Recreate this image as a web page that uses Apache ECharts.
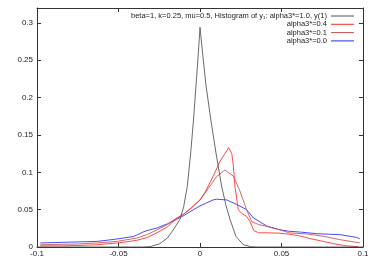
<!DOCTYPE html>
<html>
<head>
<meta charset="utf-8">
<script src="https://cdn.jsdelivr.net/npm/echarts@6/dist/echarts.min.js"></script>
<style>html,body{margin:0;padding:0;background:#fff}#c{width:374px;height:262px}</style>
</head>
<body>
<div id="c"></div>
<script>
// Tick labels
var xTicks = [-0.1, -0.05, 0, 0.05, 0.1];
var yTicks = [0, 0.05, 0.1, 0.15, 0.2, 0.25, 0.3];

// Series names
var names = [
  'beta=1, k=0.25, mu=0.5, Histogram of y\u2081: alpha3*=1.0, y(1)',
  'alpha3*=0.4',
  'alpha3*=0.1',
  'alpha3*=0.0'
];

// alpha3*=1.0, y(1)
var xBlack = [-0.1,-0.035,-0.0307,-0.025,-0.02,-0.0164,-0.0123,-0.01,-0.0078,-0.0057,-0.004,-0.00245,-0.001,0,0.0018,0.0037,0.0066,0.0098,0.0133,0.016,0.0184,0.0221,0.0266,0.031,0.035,0.1];
var yBlack = [0,0,0.0005,0.004,0.012,0.023,0.037,0.054,0.081,0.126,0.17,0.216,0.26,0.294,0.255,0.216,0.171,0.126,0.081,0.055,0.037,0.014,0.003,0.0005,0,0];

// alpha3*=0.4
var xA04 = [-0.098,-0.085,-0.075,-0.063,-0.051,-0.045,-0.0387,-0.032,-0.0264,-0.02,-0.015,-0.01,-0.005,0,0.003,0.0061,0.009,0.0123,0.015,0.0176,0.0195,0.0204,0.0215,0.0235,0.0256,0.0286,0.0307,0.033,0.036,0.041,0.049,0.055,0.061,0.068,0.0757,0.083,0.09,0.097];
var yA04 = [0.0015,0.0015,0.002,0.003,0.0054,0.007,0.009,0.013,0.019,0.027,0.037,0.044,0.053,0.063,0.073,0.086,0.099,0.115,0.124,0.133,0.125,0.110,0.080,0.050,0.045,0.041,0.034,0.022,0.019,0.019,0.0185,0.017,0.015,0.011,0.0075,0.004,0.0015,0.0005];

// alpha3*=0.1
var xA01 = [-0.098,-0.075,-0.063,-0.051,-0.0387,-0.032,-0.0264,-0.02,-0.015,-0.01,-0.005,0,0.005,0.010,0.0153,0.0204,0.0245,0.0286,0.0317,0.036,0.041,0.049,0.055,0.0654,0.0757,0.086,0.098];
var yA01 = [0.003,0.004,0.0054,0.0075,0.012,0.017,0.023,0.030,0.038,0.044,0.053,0.063,0.078,0.094,0.103,0.095,0.075,0.050,0.034,0.030,0.0277,0.023,0.0188,0.0175,0.0143,0.0098,0.0055];

// alpha3*=0.0
var xA00 = [-0.098,-0.08,-0.063,-0.051,-0.041,-0.0387,-0.035,-0.0325,-0.0264,-0.02,-0.0143,-0.01,-0.004,0,0.004,0.008,0.0102,0.0164,0.0225,0.0286,0.0327,0.035,0.041,0.049,0.055,0.0616,0.0716,0.0757,0.086,0.096,0.098];
var yA00 = [0.0054,0.0065,0.0075,0.0107,0.014,0.016,0.020,0.022,0.0255,0.031,0.037,0.042,0.050,0.055,0.059,0.063,0.064,0.063,0.057,0.050,0.039,0.036,0.028,0.023,0.021,0.020,0.0178,0.0174,0.0165,0.0129,0.011];

function pairs(xs, ys) { return xs.map(function (x, i) { return [x, ys[i]]; }); }

var colors = ['#505050', '#ff2a2a', '#c45050', '#2a2aff'];
var seriesData = [pairs(xBlack, yBlack), pairs(xA04, yA04), pairs(xA01, yA01), pairs(xA00, yA00)];

function fmt(v) { return String(parseFloat(v.toFixed(4))); }
function isTick(list, v) { return list.some(function (t) { return Math.abs(t - v) < 1e-9; }); }

var font = 'Liberation Sans, Arial, Helvetica, sans-serif';
var axisLineStyle = { color: '#333', width: 1 };

var chart = echarts.init(document.getElementById('c'), null, { renderer: 'canvas' });
chart.setOption({
  animation: false,
  backgroundColor: '#fff',
  grid: { left: 37, right: 11, top: 8, bottom: 15, containLabel: false },
  legend: {
    orient: 'vertical',
    right: 20,
    top: 12,
    align: 'right',
    icon: 'rect',
    itemWidth: 23,
    itemHeight: 1,
    itemGap: 0.3,
    padding: 0,
    selectedMode: false,
    textStyle: { fontFamily: font, fontSize: 7.5, color: '#222', lineHeight: 8, padding: [0, -1, 0, 0] },
    data: names
  },
  xAxis: [{
    type: 'value', min: -0.1, max: 0.1, interval: 0.05, position: 'bottom',
    axisLine: { show: true, onZero: false, lineStyle: axisLineStyle },
    axisTick: { show: true, inside: true, length: 4, lineStyle: axisLineStyle },
    axisLabel: { fontFamily: font, fontSize: 8, color: '#222', margin: 3,
      formatter: function (v) { return isTick(xTicks, v) ? fmt(v) : ''; } },
    splitLine: { show: false }
  }, {
    type: 'value', min: -0.1, max: 0.1, interval: 0.05, position: 'top',
    axisLine: { show: true, onZero: false, lineStyle: axisLineStyle },
    axisTick: { show: true, inside: true, length: 4, lineStyle: axisLineStyle },
    axisLabel: { show: false },
    splitLine: { show: false }
  }],
  yAxis: [{
    type: 'value', min: 0, max: 0.32, interval: 0.05, position: 'left',
    axisLine: { show: true, onZero: false, lineStyle: axisLineStyle },
    axisTick: { show: true, inside: true, length: 4, lineStyle: axisLineStyle },
    axisLabel: { fontFamily: font, fontSize: 8, color: '#222', margin: 4,
      formatter: function (v) { return isTick(yTicks, v) ? fmt(v) : ''; } },
    splitLine: { show: false }
  }, {
    type: 'value', min: 0, max: 0.32, interval: 0.05, position: 'right',
    axisLine: { show: true, onZero: false, lineStyle: axisLineStyle },
    axisTick: { show: true, inside: true, length: 4, lineStyle: axisLineStyle },
    axisLabel: { show: false },
    splitLine: { show: false }
  }],
  series: names.map(function (n, i) {
    return {
      name: n, type: 'line', xAxisIndex: 0, yAxisIndex: 0,
      data: seriesData[i], symbol: 'none', showSymbol: false, smooth: false,
      silent: true, z: 10 - i,
      lineStyle: { color: colors[i], width: 1, opacity: 0.85 },
      itemStyle: { color: colors[i] }
    };
  })
});
</script>
</body>
</html>
